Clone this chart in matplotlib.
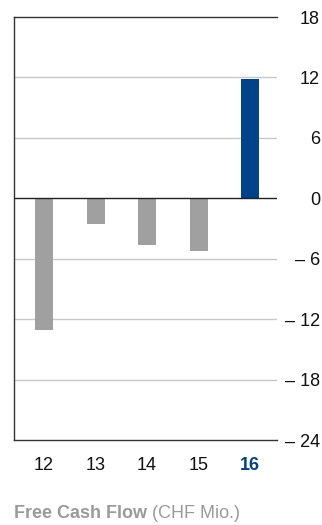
import matplotlib
matplotlib.use('Agg')
import matplotlib.pyplot as plt

plt.rcParams['font.family'] = ['Liberation Sans', 'DejaVu Sans']

years = ['12', '13', '14', '15', '16']
fcf = [-13.1, -2.55, -4.6, -5.2, 11.85]
colors = ['#a0a0a0', '#a0a0a0', '#a0a0a0', '#a0a0a0', '#00438a']
yticks = [18, 12, 6, 0, -6, -12, -18, -24]
ylabels = ['18', '12', '6', '0', '\u2013 6', '\u2013 12', '\u2013 18', '\u2013 24']

fig = plt.figure(figsize=(3.22, 5.25), dpi=100)
ax = fig.add_axes([14 / 322, 1 - 440 / 525, 263 / 322, 423 / 525])

x = range(len(years))
ax.bar(x, fcf, width=0.35, color=colors, zorder=3)

ax.set_ylim(-24, 18)
ax.set_xlim(-0.583, 4.524)

# light grid lines, dark frame lines at 18 / 0 / -24
for y in yticks:
    if y in (18, 0, -24):
        continue
    ax.axhline(y, color='#c8c8c8', lw=1, zorder=1)
ax.axhline(0, color='#222222', lw=1, zorder=4)

for s in ['top', 'bottom', 'left']:
    ax.spines[s].set_color('#333333')
    ax.spines[s].set_linewidth(1)
ax.spines['right'].set_visible(False)

ax.yaxis.tick_right()
ax.set_yticks(yticks)
ax.set_yticklabels(ylabels, fontsize=13, color='#111111')
ax.tick_params(axis='y', length=0, pad=31)
for lbl in ax.get_yticklabels():
    lbl.set_horizontalalignment('right')

ax.set_xticks(list(x))
ax.set_xticklabels(years, fontsize=13, color='#111111')
ax.tick_params(axis='x', length=0, pad=12)
last = ax.get_xticklabels()[-1]
last.set_color('#00438a')
last.set_fontweight('bold')

t1 = fig.text(14 / 322, 1 - 522 / 525, 'Free Cash Flow', fontsize=13,
              fontweight='bold', color='#9a9a9a', va='bottom')
ax.annotate(' (CHF Mio.)', xy=(1, 0), xycoords=t1, fontsize=13,
            color='#9a9a9a', va='bottom', annotation_clip=False)

fig.savefig('out.png', dpi=100)
